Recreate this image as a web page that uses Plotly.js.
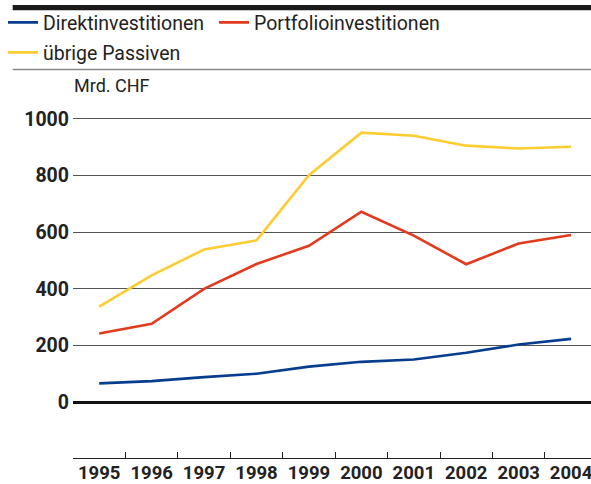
<!DOCTYPE html>
<html>
<head>
<meta charset="utf-8">
<script src="https://cdn.plot.ly/plotly-3.0.1.min.js"></script>
<style>
html,body{margin:0;padding:0;background:#fff;overflow:hidden;}
#chart{width:591px;height:484px;}
</style>
</head>
<body>
<div id="chart"></div>
<script>
const years = ['1995','1996','1997','1998','1999','2000','2001','2002','2003','2004'];
const seriesNames = ['Direktinvestitionen','Portfolioinvestitionen','übrige Passiven'];
const direkt = [67, 75, 89, 101, 126, 143, 151, 175, 204, 224];
const portfolio = [243, 277, 400, 488, 552, 672, 588, 487, 560, 590];
const uebrige = [338, 448, 539, 571, 801, 951, 940, 905, 895, 901];
const yTicks = [0, 200, 400, 600, 800, 1000];
const unitLabel = 'Mrd. CHF';

const FONT = 'Roboto, "DejaVu Sans", sans-serif';
const colors = ['#063d8e', '#e23a1e', '#fdcc30'];

const traces = [
  {x: years, y: direkt, name: seriesNames[0], type: 'scatter', mode: 'lines',
   line: {color: colors[0], width: 2.6}, legend: 'legend'},
  {x: years, y: portfolio, name: seriesNames[1], type: 'scatter', mode: 'lines',
   line: {color: colors[1], width: 2.6}, legend: 'legend2'},
  {x: years, y: uebrige, name: seriesNames[2], type: 'scatter', mode: 'lines',
   line: {color: colors[2], width: 2.6}, legend: 'legend3'}
];

const PW = 518, PH = 358, PB = 458, PL = 73;
const px2x = p => (p - PL) / PW;
const px2y = p => (PB - p) / PH;

const legendFont = {family: FONT, size: 19.5, color: '#222'};
const legBase = {orientation: 'h', xanchor: 'left', yanchor: 'middle', font: legendFont,
                 bgcolor: 'rgba(0,0,0,0)', itemwidth: 30};
const layout = {
  width: 591, height: 484,
  margin: {l: PL, r: 0, t: 100, b: 26},
  paper_bgcolor: '#fff', plot_bgcolor: '#fff',
  showlegend: true,
  legend: Object.assign({}, legBase, {x: px2x(3), y: px2y(22.7)}),
  legend2: Object.assign({}, legBase, {x: px2x(214), y: px2y(22.7)}),
  legend3: Object.assign({}, legBase, {x: px2x(3), y: px2y(52.7)}),
  xaxis: {
    type: 'category', range: [-0.5, 9.38], fixedrange: true,
    showgrid: false, zeroline: false,
    showline: true, linecolor: '#222', linewidth: 1,
    ticks: 'inside', tickson: 'boundaries', ticklen: 6, tickcolor: '#222', tickwidth: 1,
    tickangle: 0, ticklabelstandoff: -2,
    tickfont: {family: FONT, size: 18.5, color: '#222', weight: 'bold'},
    automargin: false
  },
  yaxis: {
    range: [-196, 1066], fixedrange: true,
    tickvals: yTicks, ticktext: yTicks.map(String),
    showgrid: true, gridcolor: '#555', gridwidth: 1,
    zeroline: true, zerolinecolor: '#111', zerolinewidth: 2.6,
    showline: false, ticks: '', ticklabelstandoff: 3,
    tickfont: {family: FONT, size: 19.5, color: '#222', weight: 'bold'},
    automargin: false
  },
  shapes: [
    {type: 'rect', xref: 'paper', yref: 'paper', x0: px2x(12.7), x1: 1.0, y0: px2y(10.3), y1: px2y(5),
     fillcolor: '#1a1a1a', line: {width: 0}},
    {type: 'line', xref: 'paper', yref: 'paper', x0: px2x(12.7), x1: 1.0, y0: px2y(69.5), y1: px2y(69.5),
     line: {color: '#888', width: 1.5}}
  ],
  annotations: [
    {text: unitLabel, xref: 'paper', yref: 'paper', x: px2x(72), xanchor: 'left', y: px2y(85), yanchor: 'middle',
     showarrow: false, font: {family: FONT, size: 18, color: '#222'}}
  ]
};

Plotly.newPlot('chart', traces, layout, {displayModeBar: false, staticPlot: true});
</script>
</body>
</html>
